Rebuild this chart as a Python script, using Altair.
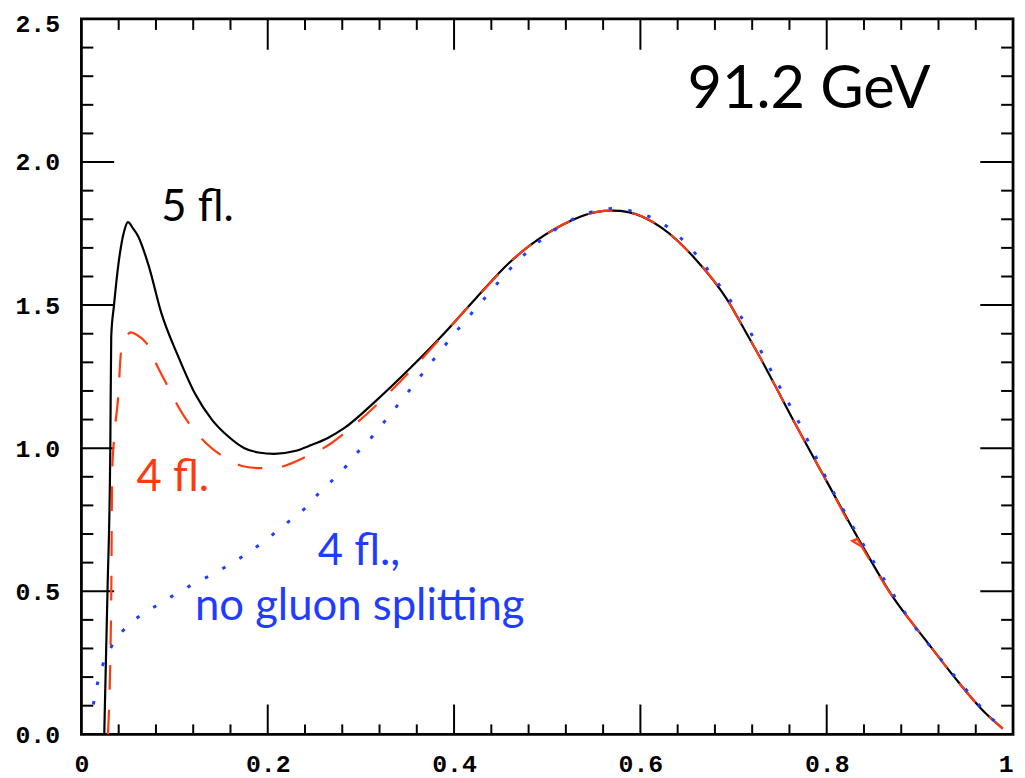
import altair as alt
import pandas as pd

# ---- data ----
# 5 flavours (black solid)
x5 = [0.0245, 0.028, 0.031, 0.032, 0.035, 0.040, 0.046, 0.050, 0.055, 0.061, 0.072, 0.086,
      0.104, 0.122, 0.140, 0.158, 0.175, 0.190, 0.207, 0.229, 0.246, 0.264, 0.282, 0.317,
      0.353, 0.389, 0.424, 0.459, 0.480, 0.516, 0.552, 0.570, 0.587, 0.623, 0.658, 0.694,
      0.711, 0.729, 0.765, 0.800, 0.836, 0.871, 0.906, 0.942, 0.970, 0.989]
y5 = [0.0, 0.50, 1.00, 1.39, 1.50, 1.65, 1.76, 1.79, 1.77, 1.74, 1.64, 1.47,
      1.32, 1.19, 1.10, 1.04, 1.00, 0.985, 0.98, 0.99, 1.01, 1.035, 1.07, 1.168,
      1.28, 1.40, 1.526, 1.647, 1.705, 1.78, 1.825, 1.83, 1.825, 1.77, 1.665, 1.515,
      1.418, 1.314, 1.092, 0.884, 0.672, 0.48, 0.33, 0.18, 0.075, 0.02]

# 4 flavours (red dashed)
x4 = [0.0285, 0.032, 0.033, 0.035, 0.0395, 0.0425, 0.047, 0.053, 0.060, 0.070, 0.081, 0.092,
      0.104, 0.118, 0.133, 0.154, 0.175, 0.195, 0.211, 0.222, 0.246, 0.257, 0.296, 0.331,
      0.367, 0.399, 0.431, 0.466, 0.480, 0.516, 0.552, 0.570, 0.587, 0.623, 0.658, 0.694,
      0.711, 0.729, 0.765, 0.800, 0.833, 0.871, 0.906, 0.942, 0.970, 0.989]
y4 = [0.0, 0.475, 0.915, 1.03, 1.18, 1.335, 1.38, 1.405, 1.395, 1.366, 1.29, 1.22,
      1.145, 1.075, 1.02, 0.967, 0.936, 0.93, 0.932, 0.943, 0.978, 0.995, 1.09, 1.196,
      1.318, 1.435, 1.55, 1.668, 1.705, 1.78, 1.825, 1.83, 1.825, 1.77, 1.665, 1.515,
      1.418, 1.314, 1.092, 0.884, 0.683, 0.48, 0.33, 0.18, 0.075, 0.02]
# small kink in the red curve near x = 0.83
x4_kink = [0.833, 0.8275, 0.838]
y4_kink = [0.683, 0.676, 0.655]

# 4 flavours, no gluon splitting (blue dotted)
xng = [0.0128, 0.017, 0.023, 0.032, 0.044, 0.061, 0.079, 0.097, 0.115, 0.134, 0.153, 0.172,
       0.190, 0.206, 0.223, 0.240, 0.254, 0.270, 0.285, 0.299, 0.314, 0.327, 0.354, 0.380,
       0.408, 0.436, 0.464, 0.496, 0.532, 0.553, 0.575, 0.595, 0.616, 0.650, 0.679, 0.704,
       0.726, 0.746, 0.767, 0.786, 0.805, 0.823, 0.845, 0.867, 0.890, 0.917, 0.945, 0.973, 0.989]
yng = [0.104, 0.174, 0.243, 0.305, 0.36, 0.41, 0.447, 0.482, 0.516, 0.548, 0.582, 0.62,
       0.66, 0.70, 0.745, 0.79, 0.84, 0.89, 0.94, 0.995, 1.047, 1.10, 1.21, 1.318,
       1.43, 1.536, 1.64, 1.734, 1.807, 1.83, 1.838, 1.824, 1.80, 1.713, 1.595, 1.48,
       1.36, 1.235, 1.11, 0.985, 0.86, 0.755, 0.632, 0.513, 0.396, 0.284, 0.174, 0.069, 0.021]

# tick positions
x_major = [0.0, 0.2, 0.4, 0.6, 0.8, 1.0]
x_minor = [0.04, 0.08, 0.12, 0.16, 0.24, 0.28, 0.32, 0.36, 0.44, 0.48, 0.52, 0.56,
           0.64, 0.68, 0.72, 0.76, 0.84, 0.88, 0.92, 0.96]
y_major = [0.0, 0.5, 1.0, 1.5, 2.0, 2.5]
y_minor = [0.1, 0.2, 0.3, 0.4, 0.6, 0.7, 0.8, 0.9, 1.1, 1.2, 1.3, 1.4,
           1.6, 1.7, 1.8, 1.9, 2.1, 2.2, 2.3, 2.4]

# annotations
ann_text = ["91.2 GeV", "5 fl.", "4 fl.", "4 fl.,", "no gluon splitting"]
ann_x = [0.781, 0.1246, 0.098, 0.298, 0.2987]
ann_y = [2.19, 1.793, 0.85, 0.593, 0.399]
ann_color = ["#000000", "#000000", "#ff3a10", "#1f3cff", "#1f3cff"]
ann_size = [60, 44, 44, 44, 44]

BLACK = "#000000"
RED = "#ff3a10"
BLUE = "#1f3cff"

W, H = 939, 721

xs = alt.Scale(domain=[0, 1], nice=False, zero=False)
ys = alt.Scale(domain=[0, 2.5], nice=False, zero=False)

label_font = dict(labelFont="Liberation Mono", labelFontSize=25, labelFontWeight="bold",
                  labelColor="black", labelFlush=False, labelOverlap=False)
xaxis = alt.Axis(values=x_major, title=None, grid=False, ticks=False, tickSize=0, domain=False,
                 labelExpr="datum.value == 0 ? '0' : (datum.value == 1 ? '1' : format(datum.value, '.1f'))",
                 labelAlign={"condition": {"test": "datum.value == 1", "value": "right"}, "value": "center"},
                 labelPadding=17, **label_font)
yaxis = alt.Axis(values=y_major, title=None, grid=False, ticks=False, tickSize=0, domain=False,
                 format=".1f", labelPadding=22,
                 labelBaseline={"condition": {"test": "datum.value == 2.5", "value": "top"}, "value": "middle"},
                 labelOffset={"condition": {"test": "datum.value == 2.5", "value": -7}, "value": 0},
                 **label_font)


def X(field="x"):
    return alt.X(f"{field}:Q", scale=xs, axis=xaxis)


def Y(field="y"):
    return alt.Y(f"{field}:Q", scale=ys, axis=yaxis)


df5 = pd.DataFrame({"x": x5, "y": y5, "o": list(range(len(x5)))})
df4 = pd.DataFrame({"x": x4, "y": y4, "o": list(range(len(x4)))})
df4k = pd.DataFrame({"x": x4_kink, "y": y4_kink, "o": list(range(len(x4_kink)))})
dfng = pd.DataFrame({"x": xng, "y": yng, "o": list(range(len(xng)))})

line5 = alt.Chart(df5).mark_line(color=BLACK, strokeWidth=2.2, interpolate="monotone").encode(
    x=X(), y=Y(), order="o:Q")
line4 = alt.Chart(df4).mark_line(color=RED, strokeWidth=2.2, strokeDash=[25, 20],
                                 interpolate="monotone").encode(x=X(), y=Y(), order="o:Q")
line4k = alt.Chart(df4k).mark_line(color=RED, strokeWidth=2.2).encode(x=X(), y=Y(), order="o:Q")
lineng = alt.Chart(dfng).mark_line(color=BLUE, strokeWidth=3, strokeDash=[3.5, 16.5],
                                   interpolate="monotone").encode(x=X(), y=Y(), order="o:Q")

dxm = pd.DataFrame({"x": x_minor})
dxMi = pd.DataFrame({"x": x_major[1:-1]})
dyM = pd.DataFrame({"y": y_major[1:-1]})
dym = pd.DataFrame({"y": y_minor})

tick_style = dict(color="black", strokeWidth=2)
ticks = [
    alt.Chart(dxMi).mark_rule(**tick_style).encode(x=X(), y=alt.value(H), y2=alt.value(H - 30)),
    alt.Chart(dxm).mark_rule(**tick_style).encode(x=X(), y=alt.value(H), y2=alt.value(H - 10)),
    alt.Chart(dxMi).mark_rule(**tick_style).encode(x=X(), y=alt.value(0), y2=alt.value(31)),
    alt.Chart(dxm).mark_rule(**tick_style).encode(x=X(), y=alt.value(0), y2=alt.value(11)),
    alt.Chart(dyM).mark_rule(**tick_style).encode(y=Y(), x=alt.value(0), x2=alt.value(33)),
    alt.Chart(dym).mark_rule(**tick_style).encode(y=Y(), x=alt.value(0), x2=alt.value(12)),
    alt.Chart(dyM).mark_rule(**tick_style).encode(y=Y(), x=alt.value(W), x2=alt.value(W - 33)),
    alt.Chart(dym).mark_rule(**tick_style).encode(y=Y(), x=alt.value(W), x2=alt.value(W - 12)),
]

dfa = pd.DataFrame({"x": ann_x, "y": ann_y, "t": ann_text, "c": ann_color, "s": ann_size})
labels = alt.Chart(dfa).mark_text(font="Lato", align="center", baseline="alphabetic").encode(
    x=X(), y=Y(), text="t:N",
    color=alt.Color("c:N", scale=None),
    size=alt.Size("s:Q", scale=None),
)

chart = alt.layer(*ticks, line5, line4, line4k, lineng, labels).properties(
    width=W, height=H,
    padding={"left": 74, "top": 8, "right": 4, "bottom": 45},
    autosize=alt.AutoSizeParams(type="none"),
).configure_view(stroke="black", strokeWidth=2.8)

chart.save("out.html", embed_options={"renderer": "svg", "actions": False})
